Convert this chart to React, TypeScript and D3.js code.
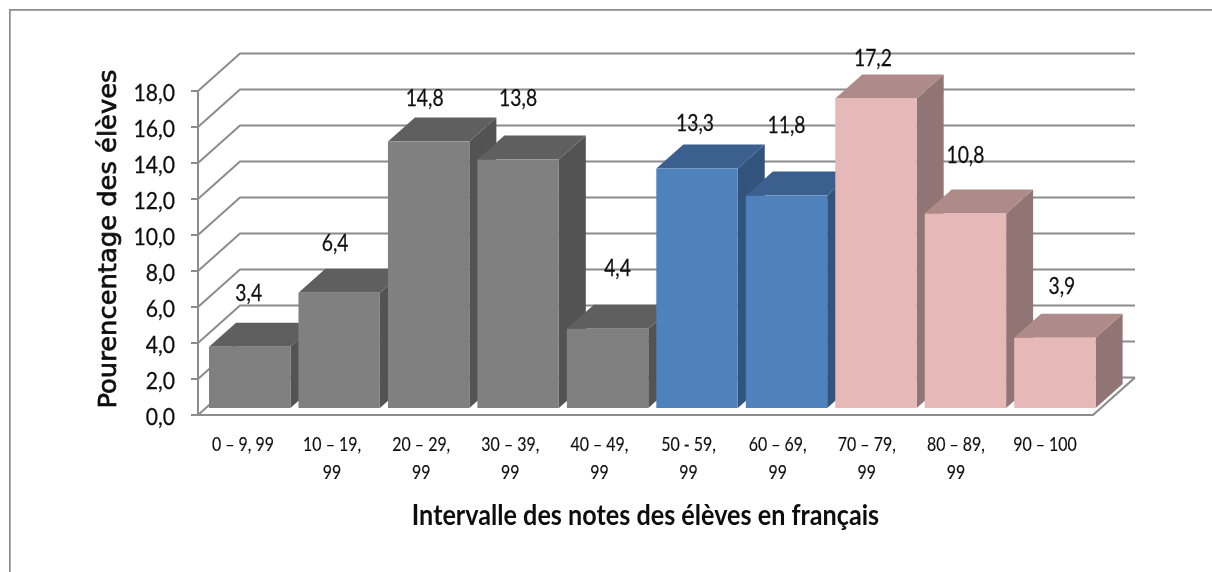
import React from "react";
import * as d3 from "d3";

const categories = ["0 – 9, 99", "10 – 19, 99", "20 – 29, 99", "30 – 39, 99", "40 – 49, 99", "50 - 59, 99", "60 – 69, 99", "70 – 79, 99", "80 – 89, 99", "90 – 100"];
const categoryLines = [["0 – 9, 99"], ["10 – 19,", "99"], ["20 – 29,", "99"], ["30 – 39,", "99"], ["40 – 49,", "99"], ["50 - 59,", "99"], ["60 – 69,", "99"], ["70 – 79,", "99"], ["80 – 89,", "99"], ["90 – 100"]];
const values = [3.4, 6.4, 14.8, 13.8, 4.4, 13.3, 11.8, 17.2, 10.8, 3.9];
const valueLabels = ["3,4", "6,4", "14,8", "13,8", "4,4", "13,3", "11,8", "17,2", "10,8", "3,9"];
const groups = ["gray", "gray", "gray", "gray", "gray", "blue", "blue", "pink", "pink", "pink"];
const yTicks = [0, 2, 4, 6, 8, 10, 12, 14, 16, 18];
const yTitle = "Pourencentage des élèves";
const xTitle = "Intervalle des notes des élèves en français";

const palette: Record<string, { front: string; top: string; side: string }> = {
  gray: { front: "#808080", top: "#5f5f5f", side: "#525252" },
  blue: { front: "#4f81bd", top: "#3a5f8e", side: "#30527b" },
  pink: { front: "#e6b8b7", top: "#ae8b88", side: "#917574" },
};

// Hand-placed data-label offsets from the bar's top face, as in the original.
const labelDx = [-1, -4, -4, 0, 10, -2, 0, -3, 0, 7];
const labelDy = [-54, -50, -44, -62, -61, -46, -71, -40, -59, -52];

const FONT = "Lato, sans-serif";

function Txt({ x, y, sx = 0.84, size, weight, family = FONT, rotate, stroke, children }: any) {
  const tr = `translate(${x},${y})${rotate ? ` rotate(${rotate})` : ""} scale(${sx},1)`;
  return (
    <text
      transform={tr}
      textAnchor="middle"
      fontFamily={family}
      fontSize={size}
      fontWeight={weight}
      fill="#111"
      stroke={stroke ? "#111" : undefined}
      strokeWidth={stroke}
    >
      {children}
    </text>
  );
}

export default function App() {
  const y = d3.scaleLinear().domain([0, 18]).range([415, 91]);
  const h = (v: number) => y(0) - y(v);
  const x = d3
    .scaleBand<string>()
    .domain(categories)
    .range([209, 1095.6])
    .paddingInner(0.09)
    .paddingOuter(0);
  const labelX = d3.scaleLinear().domain([0, 9]).range([243, 1045]);
  const grid = { dx: 42, dy: -37.5, right: 895 };
  const depth = { dx: 27, dy: -24 };
  const barBase = 408;
  const gridColor = "#8c8c8c";
  const line = d3.line();
  const x0 = 198;
  const w = x.bandwidth();

  return (
    <svg
      width={1212}
      height={572}
      style={{ position: "absolute", left: 0, top: 0, background: "#fff" }}
    >
      <defs>
        <filter id="soft" x="0" y="0" width="100%" height="100%">
          <feGaussianBlur stdDeviation="0.45" />
        </filter>
      </defs>
      <g filter="url(#soft)">
        <path d="M9.5,572 V9.5 H1212" fill="none" stroke="#8c8c8c" strokeWidth={2.4} />

        {/* gridlines */}
        {yTicks.map((t) => (
          <g key={t} fill="none" stroke={gridColor} strokeWidth={2}>
            <path
              d={
                line([
                  [x0, y(t)],
                  [x0 + grid.dx, y(t) + grid.dy],
                  [x0 + grid.dx + grid.right, y(t) + grid.dy],
                ]) as string
              }
            />
            <path d={line([[x0 - 7, y(t)], [x0, y(t)]]) as string} />
          </g>
        ))}
        <path
          d={
            line([
              [x0, y(0)],
              [x0 + grid.right, y(0)],
              [x0 + grid.right + grid.dx, y(0) + grid.dy],
            ]) as string
          }
          fill="none"
          stroke={gridColor}
          strokeWidth={2.2}
        />
        <path d={line([[x0, y(18)], [x0, y(0)]]) as string} fill="none" stroke={gridColor} strokeWidth={2} />

        {/* bars */}
        {categories.map((c, i) => {
          const left = x(c) as number;
          const top = barBase - h(values[i]);
          const col = palette[groups[i]];
          return (
            <g key={c}>
              <path
                d={
                  line([
                    [left + w, top],
                    [left + w + depth.dx, top + depth.dy],
                    [left + w + depth.dx, barBase + depth.dy],
                    [left + w, barBase],
                  ]) as string
                }
                fill={col.side}
              />
              <path
                d={
                  line([
                    [left, top],
                    [left + depth.dx, top + depth.dy],
                    [left + w + depth.dx, top + depth.dy],
                    [left + w, top],
                  ]) as string
                }
                fill={col.top}
              />
              <rect x={left} y={top} width={w} height={h(values[i])} fill={col.front} />
            </g>
          );
        })}

        {/* data labels */}
        {categories.map((c, i) => {
          const left = x(c) as number;
          const top = barBase - h(values[i]);
          return (
            <Txt key={c} x={left + w / 2 + labelDx[i]} y={top + labelDy[i] + 8} size={23} sx={0.84} stroke={0.25}>
              {valueLabels[i]}
            </Txt>
          );
        })}

        {/* y tick labels */}
        {yTicks.map((t) => (
          <text
            key={t}
            transform={`translate(175,${y(t) + 10}) scale(0.88,1)`}
            textAnchor="end"
            fontFamily={FONT}
            fontSize={24}
            fill="#111"
            stroke="#111"
            strokeWidth={0.3}
          >
            {t.toFixed(1).replace(".", ",")}
          </text>
        ))}

        {/* category labels */}
        {categoryLines.map((lines, i) =>
          lines.map((l, j) => (
            <Txt key={l + i} x={labelX(i)} y={451 + j * 28} size={19} sx={0.84} stroke={0.15}>
              {l}
            </Txt>
          ))
        )}

        <Txt x={645.5} y={525} size={28} weight={700} sx={0.9}>
          {xTitle}
        </Txt>
        <Txt x={116} y={239} size={24} sx={1.075} rotate={-90} stroke={0.7} family="'DejaVu Sans', sans-serif">
          {yTitle}
        </Txt>
      </g>
    </svg>
  );
}
